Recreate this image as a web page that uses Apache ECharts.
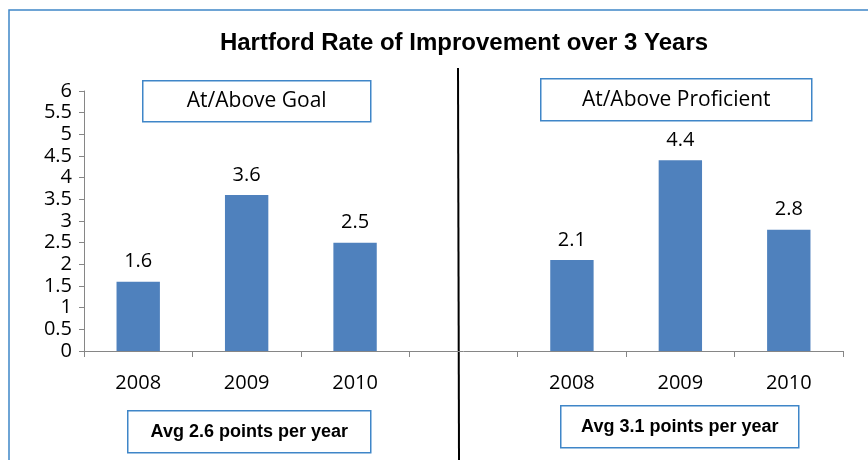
<!DOCTYPE html>
<html>
<head>
<meta charset="utf-8">
<script src="https://cdn.jsdelivr.net/npm/echarts@6/dist/echarts.min.js"></script>
<style>html,body{margin:0;padding:0;background:#fff}#c{width:868px;height:460px}</style>
</head>
<body>
<div id="c"></div>
<script>
const categories = ['2008', '2009', '2010', '', '2008', '2009', '2010'];
const values = [1.6, 3.6, 2.5, null, 2.1, 4.4, 2.8];
const yTicks = [0, 0.5, 1, 1.5, 2, 2.5, 3, 3.5, 4, 4.5, 5, 5.5, 6];
const title = 'Hartford Rate of Improvement over 3 Years';
const panelLabels = ['At/Above Goal', 'At/Above Proficient'];
const avgLabels = ['Avg 2.6 points per year', 'Avg 3.1 points per year'];

const FONT = 'Open Sans';
const BFONT = 'Liberation Sans';
const chart = echarts.init(document.getElementById('c'));

function box(x, y, w, h, text, font) {
  return {
    type: 'group', left: x, top: y,
    children: [
      { type: 'rect', shape: { x: 0, y: 0, width: w, height: h },
        style: { fill: '#fff', stroke: '#3f86c8', lineWidth: 1.5 } },
      { type: 'text', x: w / 2, y: h / 2,
        style: { text: text, fill: '#000', font: font,
                 textAlign: 'center', textVerticalAlign: 'middle' } }
    ]
  };
}

chart.setOption({
  animation: false,
  grid: { left: 84, right: 25, top: 91, bottom: 109, containLabel: false },
  xAxis: {
    type: 'category', data: categories,
    axisLine: { lineStyle: { color: '#868686', width: 1 } },
    axisTick: { show: true, length: 6, lineStyle: { color: '#868686' } },
    axisLabel: { color: '#000', fontFamily: FONT, fontSize: 20, margin: 22 }
  },
  yAxis: {
    type: 'value', min: 0, max: 6, interval: 0.5,
    axisLine: { show: true, lineStyle: { color: '#868686' } },
    axisTick: { show: true, length: 5, lineStyle: { color: '#868686' } },
    splitLine: { show: false },
    axisLabel: { color: '#000', fontFamily: FONT, fontSize: 20, margin: 12, lineHeight: 20,
                 formatter: v => String(yTicks.find(t => Math.abs(t - v) < 1e-9) ?? v) }
  },
  series: [{
    type: 'bar', data: values, barWidth: '40%',
    itemStyle: { color: '#4F81BD' },
    label: { show: true, position: 'top', distance: 10, color: '#000',
             fontFamily: FONT, fontSize: 20, formatter: p => p.value.toFixed(1) }
  }],
  graphic: [
    { type: 'polyline', shape: { points: [[9, 460], [9, 10], [868, 10]] },
      style: { stroke: '#3f86c8', lineWidth: 1.5, fill: null } },
    { type: 'text', x: 464, y: 43,
      style: { text: title, fill: '#000', font: 'bold 24px "' + BFONT + '"',
               textAlign: 'center', textVerticalAlign: 'middle' } },
    { type: 'line', shape: { x1: 458, y1: 68, x2: 459, y2: 460 },
      style: { stroke: '#000', lineWidth: 2 } },
    box(142, 80, 228, 41, panelLabels[0], '21px "' + FONT + '"'),
    box(540, 78, 271, 42, panelLabels[1], '21px "' + FONT + '"'),
    box(127, 410, 243, 42, avgLabels[0], 'bold 18px "' + BFONT + '"'),
    box(560, 405, 238, 42, avgLabels[1], 'bold 18px "' + BFONT + '"')
  ]
});
</script>
</body>
</html>
